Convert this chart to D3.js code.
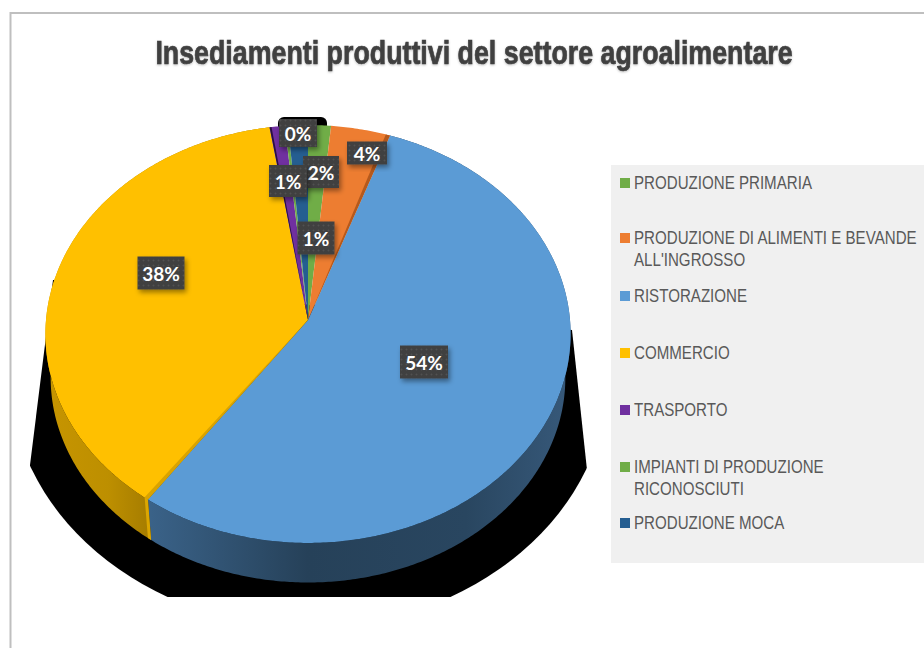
<!DOCTYPE html>
<html>
<head>
<meta charset="utf-8">
<script src="https://cdn.jsdelivr.net/npm/d3@7"></script>
<style>
    html, body { margin: 0; padding: 0; background: #fff; }
    svg { display: block; }
    .legend-text { font-family: "Liberation Sans", sans-serif; font-size: 18px; fill: #595959; }
    .title { font-family: "Liberation Sans", sans-serif; font-size: 33.5px; font-weight: bold; fill: #404040; stroke: #404040; stroke-width: 0.7px; }
    .pct { font-family: Lato, "Open Sans", sans-serif; font-size: 19px; font-weight: bold; fill: #fff; }
</style>
</head>
<body>
<svg id="mainsvg" width="924" height="648"></svg>
<script>
const titleText = "Insediamenti produttivi del settore agroalimentare";
const categories = [
    ["PRODUZIONE PRIMARIA"],
    ["PRODUZIONE DI ALIMENTI E BEVANDE", "ALL'INGROSSO"],
    ["RISTORAZIONE"],
    ["COMMERCIO"],
    ["TRASPORTO"],
    ["IMPIANTI DI PRODUZIONE", "RICONOSCIUTI"],
    ["PRODUZIONE MOCA"]
];
// slice shares as they look in the picture, the printed labels are rounded by the source
const values = [1.5, 3.9, 54.4, 37.7, 1.0, 0.2, 1.3];
const printedLabels = ["2%", "4%", "54%", "38%", "1%", "0%", "1%"];
const colors = ["#70ad47", "#ed7d31", "#5b9bd5", "#ffc000", "#7030a0", "#70ad47", "#255e91"];
const darkColors = ["#4e7a31", "#b5591c", "#2f5270", "#d9a300", "#2b1040", "#4e7a31", "#1a4266"];

// label box centres and sizes
const labelBoxes = [
    {cx: 321, cy: 172, w: 36, h: 32},
    {cx: 367, cy: 153, w: 40, h: 23},
    {cx: 424, cy: 362, w: 48, h: 33},
    {cx: 161, cy: 273, w: 47, h: 33},
    {cx: 288, cy: 181, w: 38, h: 32},
    {cx: 298, cy: 133, w: 38, h: 28},
    {cx: 316, cy: 238, w: 37, h: 33}
];
const legendRows = [183, 238, 296, 353, 410, 467, 523];

let svg = d3.select("#mainsvg");
let defs = svg.append("defs");

// pie geometry, a tilted disc with a little perspective
const cx = 308, cy = 320, Rx = 262, Ry = 208, persp = 0.067;
const depth = 44, bottomScale = 0.98;

function project(theta, z) {
    let X = Math.sin(theta), Y = -Math.cos(theta);
    let w = 1 / (1 - persp * Y);
    let s = z ? bottomScale : 1;
    return [cx + s * Rx * X * w, cy + (z ? depth : 0) + s * Ry * Y * w];
}

function rim(a, b, z) {
    let n = Math.max(2, Math.ceil((b - a) / 0.01));
    return d3.range(n + 1).map(i => project(a + (b - a) * i / n, z));
}

let line = d3.line();
let pie = d3.pie().sort(null).startAngle(0).endAngle(2 * Math.PI)(values);

// gradients for the side wall
function wallGradient(id, stops) {
    let g = defs.append("linearGradient").attr("id", id)
        .attr("gradientUnits", "userSpaceOnUse")
        .attr("x1", 45).attr("x2", 571).attr("y1", 0).attr("y2", 0);
    stops.forEach(s => g.append("stop").attr("offset", s[0]).attr("stop-color", s[1]));
}
wallGradient("wall-blue", [[0.2, "#3a6288"], [0.5, "#264159"], [0.8, "#294660"], [1, "#37597a"]]);
wallGradient("wall-yellow", [[0, "#c79500"], [0.12, "#bd8f00"], [0.2, "#a57c00"]]);

// dotted label fill
let pat = defs.append("pattern").attr("id", "dots")
    .attr("width", 5).attr("height", 5).attr("patternUnits", "userSpaceOnUse");
pat.append("rect").attr("width", 5).attr("height", 5).attr("fill", "#404040");
pat.append("circle").attr("cx", 2.5).attr("cy", 2.5).attr("r", 0.9).attr("fill", "#515151");

let blur = defs.append("filter").attr("id", "labelshadow")
    .attr("x", "-30%").attr("y", "-30%").attr("width", "160%").attr("height", "160%");
blur.append("feDropShadow").attr("dx", 2).attr("dy", 3).attr("stdDeviation", 2.5)
    .attr("flood-color", "#000").attr("flood-opacity", 0.4);

let titleBlur = defs.append("filter").attr("id", "titleshadow")
    .attr("x", "-5%").attr("y", "-30%").attr("width", "110%").attr("height", "160%");
titleBlur.append("feDropShadow").attr("dx", 0).attr("dy", 1).attr("stdDeviation", 1)
    .attr("flood-color", "#000").attr("flood-opacity", 0.25);

defs.append("clipPath").attr("id", "shadowclip").append("polygon")
    .attr("points", "53,280 30,465 30,597 587,597 587,470 572,330");

// frame
svg.append("path").attr("d", "M924,13H10.5V648")
    .attr("fill", "none").attr("stroke", "#bfbfbf").attr("stroke-width", 2);

// title, squeezed like the narrow face of the original
svg.append("text").attr("class", "title")
    .attr("transform", "translate(474,64) scale(0.8,1)")
    .attr("text-anchor", "middle")
    .attr("filter", "url(#titleshadow)")
    .text(titleText);

// legend
svg.append("rect").attr("x", 611).attr("y", 165).attr("width", 313).attr("height", 398).attr("fill", "#f0f0f0");
let legend = svg.append("g").selectAll("g").data(categories).join("g")
    .attr("transform", (d, i) => "translate(620," + legendRows[i] + ")");
legend.append("rect").attr("x", 0).attr("y", -5).attr("width", 10).attr("height", 10)
    .attr("fill", (d, i) => colors[i]);
legend.each(function (d) {
    let t = d3.select(this).append("text").attr("class", "legend-text")
        .attr("transform", "translate(14,0) scale(0.84,1)");
    d.forEach((s, j) => t.append("tspan").attr("x", 0).attr("y", 6 + j * 22.5).text(s));
});

// black shadow under the pie
let shadow = svg.append("g");
shadow.append("ellipse").attr("cx", 309).attr("cy", 372).attr("rx", 300).attr("ry", 255)
    .attr("clip-path", "url(#shadowclip)").attr("fill", "#000");
shadow.append("rect").attr("x", 278).attr("y", 117).attr("width", 49).attr("height", 20).attr("rx", 6).attr("fill", "#000");

// side wall, back parts end up under the top face
let walls = svg.append("g");
pie.forEach((d, i) => {
    if (i !== 2 && i !== 3) return;
    let top = rim(d.startAngle, d.endAngle, false);
    let bottom = rim(d.startAngle, d.endAngle, true).reverse();
    walls.append("path")
        .attr("d", line(top.concat(bottom)) + "Z")
        .attr("fill", i === 2 ? "url(#wall-blue)" : "url(#wall-yellow)");
});
// lit cut face where the yellow wall meets the blue one
let cutA = pie[3].startAngle;
walls.append("path")
    .attr("d", line(rim(cutA, cutA + 0.015, false).concat(rim(cutA, cutA + 0.015, true).reverse())) + "Z")
    .attr("fill", "#dba600");

// top faces
let faces = svg.append("g");
pie.forEach((d, i) => {
    faces.append("path")
        .attr("d", line([[cx, cy]].concat(rim(d.startAngle, d.endAngle, false))) + "Z")
        .attr("fill", colors[i]);
});
// thin darker wedges along the cuts
const cuts = [
    {i: 1, a: pie[1].endAngle - 0.018, b: pie[1].endAngle},
    {i: 3, a: pie[3].startAngle, b: pie[3].startAngle + 0.016},
    {i: 4, a: pie[4].startAngle, b: pie[4].startAngle + 0.008}
];
cuts.forEach(c => {
    faces.append("path")
        .attr("d", line([[cx, cy]].concat(rim(c.a, c.b, false))) + "Z")
        .attr("fill", darkColors[c.i]);
});

// data labels
let labels = svg.append("g").selectAll("g").data(printedLabels).join("g")
    .attr("transform", (d, i) => "translate(" + labelBoxes[i].cx + "," + labelBoxes[i].cy + ")");
labels.append("rect")
    .attr("x", (d, i) => -labelBoxes[i].w / 2)
    .attr("y", (d, i) => -labelBoxes[i].h / 2)
    .attr("width", (d, i) => labelBoxes[i].w)
    .attr("height", (d, i) => labelBoxes[i].h)
    .attr("fill", "url(#dots)")
    .attr("filter", "url(#labelshadow)");
labels.append("text").attr("class", "pct")
    .attr("text-anchor", "middle").attr("y", 7.5)
    .text(d => d);
</script>
</body>
</html>
